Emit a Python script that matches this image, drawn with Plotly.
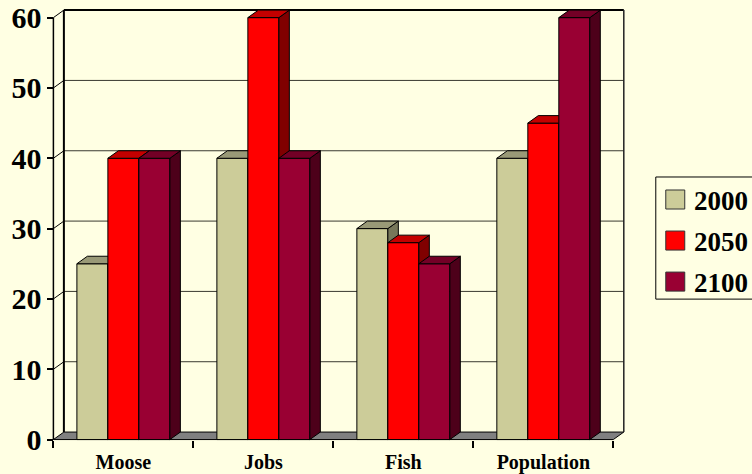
import plotly.graph_objects as go

# ---------------- data ----------------
categories = ["Moose", "Jobs", "Fish", "Population"]
series_names = ["2000", "2050", "2100"]
v2000 = [25, 40, 30, 40]
v2050 = [40, 60, 28, 45]
v2100 = [40, 40, 25, 60]
y_ticks = [0, 10, 20, 30, 40, 50, 60]

series_values = [v2000, v2050, v2100]
front_colors = ["#CCCC99", "#FF0000", "#990033"]
top_colors = ["#999977", "#C40000", "#730026"]
side_colors = ["#77775A", "#800000", "#4D001A"]

BG = "#FFFFE3"
FONT = "Liberation Serif, Times New Roman, serif"
W, H = 752, 474

# ---------------- geometry (styling) ----------------
XS = 140.12      # px per category
YS = 7.025       # px per value unit
FRONT_L = 53.0   # px of x=-0.5 (front)
FRONT_B = 439.3  # px of y=0 (front)
DX = 10.5 / XS   # depth offset in data units
DY = 7.5 / YS
BW = 0.2214      # bar width in category units
GROUP = 3 * BW
YMAXV = y_ticks[-1]

x_lo, x_hi = -0.56, len(categories) - 0.5 + DX + 0.03
y_lo, y_hi = -1.2, YMAXV + DY + 0.3

plotL = FRONT_L - (-0.5 - x_lo) * XS
plotR = plotL + (x_hi - x_lo) * XS
plotB = FRONT_B + (0 - y_lo) * YS
plotT = plotB - (y_hi - y_lo) * YS


def xp(px):
    return (px - plotL) / (plotR - plotL)


def yp(py):
    return (plotB - py) / (plotB - plotT)


xpos_axis = yp(FRONT_B)
ypos_axis = xp(FRONT_L)

xs = list(range(len(categories)))
fig = go.Figure()

axis_ids = [("x", "y"), ("x2", "y2"), ("x3", "y3")]

for i, (name, vals) in enumerate(zip(series_names, series_values)):
    xa, ya = axis_ids[i]
    off = -GROUP / 2 + i * BW
    # front faces
    fig.add_trace(go.Bar(
        x=xs, y=vals, width=BW, offset=off, name=name,
        marker=dict(color=front_colors[i], line=dict(color="black", width=1)),
        xaxis=xa, yaxis=ya, showlegend=False, hoverinfo="skip"))
    # side and top faces
    sx, sy = [], []
    tx, ty = [], []
    for j, v in enumerate(vals):
        x0 = j + off
        x1 = x0 + BW
        sx += [x1, x1 + DX, x1 + DX, x1, x1, None]
        sy += [0, DY, v + DY, v, 0, None]
        tx += [x0, x1, x1 + DX, x0 + DX, x0, None]
        ty += [v, v, v + DY, v + DY, v, None]
    fig.add_trace(go.Scatter(
        x=sx, y=sy, mode="lines", fill="toself", fillcolor=side_colors[i],
        line=dict(color="black", width=1), xaxis=xa, yaxis=ya,
        showlegend=False, hoverinfo="skip"))
    fig.add_trace(go.Scatter(
        x=tx, y=ty, mode="lines", fill="toself", fillcolor=top_colors[i],
        line=dict(color="black", width=1), xaxis=xa, yaxis=ya,
        showlegend=False, hoverinfo="skip"))

shapes = []
xl = -0.5
xr = len(categories) - 0.5
# floor
shapes.append(dict(type="path", xref="x", yref="y", layer="below",
                   path=f"M{xl},0 L{xr},0 L{xr + DX},{DY} L{xl + DX},{DY} Z",
                   fillcolor="#808080", line=dict(color="black", width=1)))
# back wall gridlines
for t in y_ticks[1:]:
    top = t == YMAXV
    shapes.append(dict(type="line", xref="x", yref="y", layer="below",
                       x0=xl + DX, x1=xr + DX, y0=t + DY, y1=t + DY,
                       line=dict(color="black" if top else "#3A3A30",
                                 width=2 if top else 1)))
# left wall diagonals
for t in y_ticks[1:]:
    shapes.append(dict(type="line", xref="x", yref="y", layer="below",
                       x0=xl, x1=xl + DX, y0=t, y1=t + DY,
                       line=dict(color="black", width=1)))
# back wall left edge, right edge
shapes.append(dict(type="line", xref="x", yref="y", layer="below",
                   x0=xl + DX, x1=xl + DX, y0=DY, y1=YMAXV + DY,
                   line=dict(color="black", width=2)))
shapes.append(dict(type="line", xref="x", yref="y", layer="below",
                   x0=xr + DX, x1=xr + DX, y0=DY, y1=YMAXV + DY,
                   line=dict(color="#222222", width=1.5)))
# front axis line
shapes.append(dict(type="line", xref="x", yref="y", layer="below",
                   x0=xl, x1=xl, y0=0, y1=YMAXV,
                   line=dict(color="black", width=1.5)))

# ---------------- manual legend ----------------
leg_left, leg_top, leg_bot = 656, 177, 299
shapes.append(dict(type="rect", xref="paper", yref="paper",
                   x0=xp(leg_left), x1=xp(780), y0=yp(leg_top), y1=yp(leg_bot),
                   line=dict(color="black", width=1), fillcolor=BG, layer="above"))
annotations = []
centers = [199.5, 240.5, 281.5]
for i, name in enumerate(series_names):
    cy = centers[i]
    shapes.append(dict(type="rect", xref="paper", yref="paper",
                       x0=xp(666), x1=xp(685), y0=yp(cy - 9.5), y1=yp(cy + 9.5),
                       fillcolor=front_colors[i], line=dict(color="#333333", width=1),
                       layer="above"))
    annotations.append(dict(xref="paper", yref="paper", x=xp(692), y=yp(cy + 1),
                            text=name, showarrow=False, xanchor="left", yanchor="middle",
                            font=dict(family=FONT, size=27, color="black", weight="bold")))

common_x = dict(range=[x_lo, x_hi], showgrid=False, zeroline=False, showline=False,
                automargin=False, fixedrange=True)
common_y = dict(range=[y_lo, y_hi], showgrid=False, zeroline=False, showline=False,
                automargin=False, fixedrange=True)

fig.update_layout(
    width=W, height=H,
    margin=dict(l=plotL, r=W - plotR, t=plotT, b=H - plotB, pad=0),
    paper_bgcolor=BG, plot_bgcolor=BG,
    shapes=shapes, annotations=annotations,
    showlegend=False,
    xaxis=dict(**common_x, anchor="free", position=xpos_axis,
               tickmode="array", tickvals=xs, ticktext=categories,
               ticks="", ticklabelstandoff=8,
               tickfont=dict(family=FONT, size=20, color="black", weight="bold")),
    xaxis2=dict(**common_x, overlaying="x", anchor="free", position=xpos_axis,
                tickmode="array", tickvals=[k - 0.5 for k in range(len(categories) + 1)],
                ticks="outside", ticklen=7, tickwidth=1.5, tickcolor="black",
                showticklabels=False),
    xaxis3=dict(**common_x, overlaying="x", visible=False),
    yaxis=dict(**common_y, anchor="free", position=ypos_axis,
               tickmode="array", tickvals=y_ticks, ticks="outside", ticklen=6,
               tickwidth=1.5, tickcolor="black",
               tickfont=dict(family=FONT, size=30, color="black", weight="bold")),
    yaxis2=dict(**common_y, overlaying="y", visible=False),
    yaxis3=dict(**common_y, overlaying="y", visible=False),
)

fig.write_html("out.html")
